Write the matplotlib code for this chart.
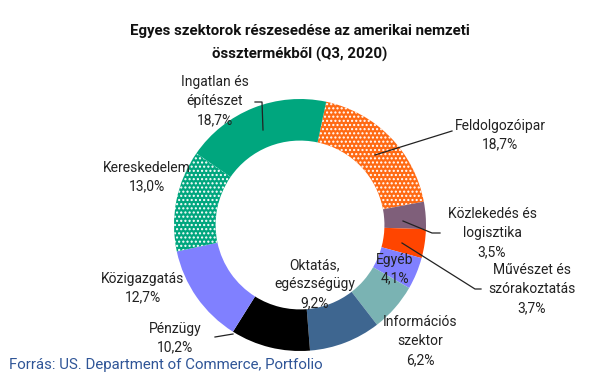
import matplotlib.pyplot as plt

plt.rcParams['font.family'] = ['Roboto', 'DejaVu Sans']

sectors = ['Feldolgozóipar', 'Közlekedés és\nlogisztika', 'Művészet és\nszórakoztatás', 'Egyéb',
           'Információs\nszektor', 'Oktatás,\negészségügy', 'Pénzügy', 'Közigazgatás',
           'Kereskedelem', 'Ingatlan és\népítészet']
shares = [18.7, 3.5, 3.7, 4.1, 6.2, 9.2, 10.2, 12.7, 13.0, 18.7]
colors = ['#FF6A13', '#7F5F7A', '#FF4500', '#8080FF', '#7AB3B3',
          '#3E6690', '#000000', '#8080FF', '#00A67E', '#00A67E']
dotted = [True, False, False, False, False, False, False, False, True, False]

W, H = 605, 379
CX, CY, R = 300, 225, 126


def px(x, y):
    # pixel position -> data coords (pie radius = 1)
    return ((x - CX) / R, (CY - y) / R)


fig = plt.figure(figsize=(W / 100, H / 100), dpi=100)
ax = fig.add_axes([0, 0, 1, 1])

wedges, _ = ax.pie(shares, colors=colors, startangle=78, counterclock=False,
                   radius=1, wedgeprops=dict(width=0.33, linewidth=0))
for w, d in zip(wedges, dotted):
    if d:
        w.set_hatch('....')
        w.set_edgecolor('white')
        w.set_linewidth(0)

ax.set_aspect('auto')
ax.set_xlim(-CX / R, (W - CX) / R)
ax.set_ylim((CY - H) / R, CY / R)
ax.axis('off')

fmt = lambda v: f"{v:.1f}%".replace('.', ',')
txt = dict(ha='center', va='center', fontsize=10, color='#222222', linespacing=1.45)

# label positions (pixels)
label_pos = [(500, 135), (492, 233), (532, 289), (395, 269), (420, 341),
             (315, 284), (175, 338), (143, 288), (147, 177), (215, 101)]
for name, v, (lx, ly) in zip(sectors, shares, label_pos):
    ax.text(*px(lx, ly), f"{name}\n{fmt(v)}", **txt)

# leader lines (pixels)
leaders = [
    [(375, 155), (452, 131)],
    [(403, 221), (432, 233), (440, 233)],
    [(402, 243), (475, 289), (481, 289)],
    [(215, 337), (233, 334)],
    [(255, 102), (262, 102), (263, 130)],
]
for pts in leaders:
    xs, ys = zip(*[px(x, y) for x, y in pts])
    ax.plot(xs, ys, color='#222222', lw=0.9)

ax.text(*px(300, 31), 'Egyes szektorok részesedése az amerikai nemzeti',
        ha='center', va='center', fontsize=10.8, fontweight='bold', color='#111111')
ax.text(*px(300, 54), 'össztermékből (Q3, 2020)',
        ha='center', va='center', fontsize=10.8, fontweight='bold', color='#111111')

ax.text(*px(9, 365), 'Forrás: US. Department of Commerce, Portfolio',
        ha='left', va='center', fontsize=10.8, color='#2F5597')

fig.savefig('out.png', dpi=100)
